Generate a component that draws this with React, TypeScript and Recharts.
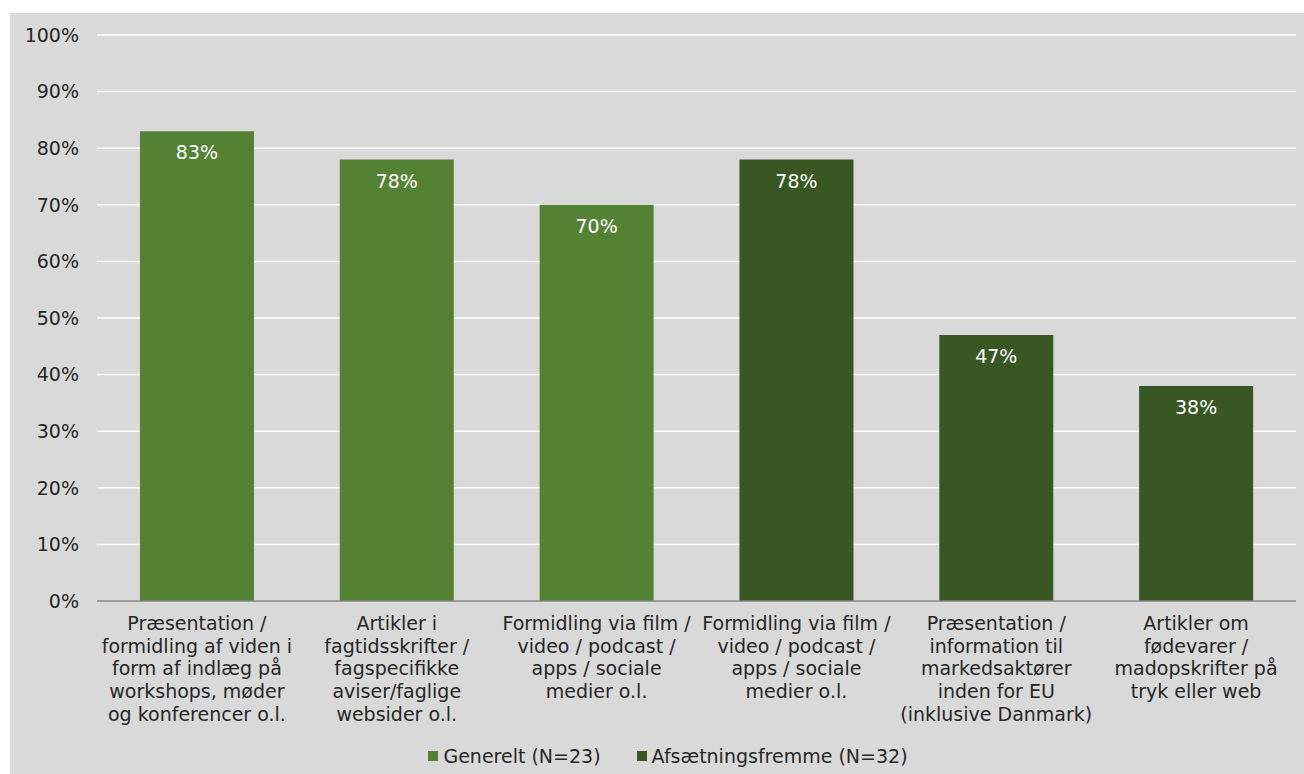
import React from 'react';
import { BarChart, Bar, XAxis, YAxis, CartesianGrid, Legend, LabelList } from 'recharts';

const categories = ['k1', 'k2', 'k3', 'k4', 'k5', 'k6'];
const labelLines = [
    ['Præsentation /', 'formidling af viden i', 'form af indlæg på', 'workshops, møder', 'og konferencer o.l.'],
    ['Artikler i', 'fagtidsskrifter /', 'fagspecifikke', 'aviser/faglige', 'websider o.l.'],
    ['Formidling via film /', 'video / podcast /', 'apps / sociale', 'medier o.l.'],
    ['Formidling via film /', 'video / podcast /', 'apps / sociale', 'medier o.l.'],
    ['Præsentation /', 'information til', 'markedsaktører', 'inden for EU', '(inklusive Danmark)'],
    ['Artikler om', 'fødevarer /', 'madopskrifter på', 'tryk eller web'],
];
const generelt = [83, 78, 70, null, null, null];
const afsaetning = [null, null, null, 78, 47, 38];
const yTicks = [0, 10, 20, 30, 40, 50, 60, 70, 80, 90, 100];

const FONT = '"DejaVu Sans", Verdana, sans-serif';
const GREEN = '#548235';
const DARK = '#385723';

const data = categories.map((c, i) => ({
    name: c,
    generelt: generelt[i],
    afsaetning: afsaetning[i],
}));

const CategoryTick = (props: any) => {
    const { x, y, payload } = props;
    const lines = labelLines[payload.index] || [];
    return (
        <text x={x} y={y} textAnchor="middle" fill="#262626" fontSize={19} fontFamily={FONT}>
            {lines.map((l, i) => (
                <tspan key={i} x={x} dy={i === 0 ? 21 : 22.7}>{l}</tspan>
            ))}
        </text>
    );
};

const valueLabel = (props: any) => {
    const { x, y, width, value } = props;
    if (value === null || value === undefined) return null;
    return (
        <text x={x + width / 2} y={y + 28} textAnchor="middle" fill="#ffffff" fontSize={19} fontFamily={FONT}>
            {`${value}%`}
        </text>
    );
};

const LegendContent = () => (
    <div style={{ display: 'flex', justifyContent: 'center', paddingTop: 11, paddingLeft: 30, fontFamily: FONT, fontSize: 19, color: '#262626', lineHeight: '22px' }}>
        {[{ name: 'Generelt (N=23)', color: GREEN }, { name: 'Afsætningsfremme (N=32)', color: DARK }].map((e, i) => (
            <span key={i} style={{ display: 'flex', alignItems: 'center', marginLeft: i ? 36 : 0 }}>
                <span style={{ width: 10, height: 10, background: e.color, display: 'inline-block', marginRight: 5 }} />
                {e.name}
            </span>
        ))}
    </div>
);

export default function App() {
    return (
        <div style={{ position: 'absolute', left: 10, top: 13, width: 1294, height: 761, background: '#d9d9d9' }}>
            <BarChart
                width={1294}
                height={761}
                data={data}
                margin={{ top: 22, right: 8, left: 0, bottom: 0 }}
                barCategoryGap="21.5%"
            >
                <CartesianGrid vertical={false} stroke="#ffffff" strokeWidth={1.5} />
                <XAxis
                    dataKey="name"
                    interval={0}
                    tickLine={false}
                    axisLine={{ stroke: '#7f7f7f', strokeWidth: 1.5 }}
                    height={133}
                    tick={<CategoryTick />}
                />
                <YAxis
                    domain={[0, 100]}
                    ticks={yTicks}
                    width={87}
                    axisLine={false}
                    tickLine={false}
                    tickFormatter={(v) => `${v}%`}
                    tick={{ fill: '#262626', fontSize: 19, fontFamily: FONT }}
                    dx={-10}
                />
                <Legend verticalAlign="bottom" height={40} content={<LegendContent />} />
                <Bar dataKey="generelt" stackId="a" fill={GREEN} isAnimationActive={false}>
                    <LabelList dataKey="generelt" content={valueLabel} />
                </Bar>
                <Bar dataKey="afsaetning" stackId="a" fill={DARK} isAnimationActive={false}>
                    <LabelList dataKey="afsaetning" content={valueLabel} />
                </Bar>
            </BarChart>
        </div>
    );
}
